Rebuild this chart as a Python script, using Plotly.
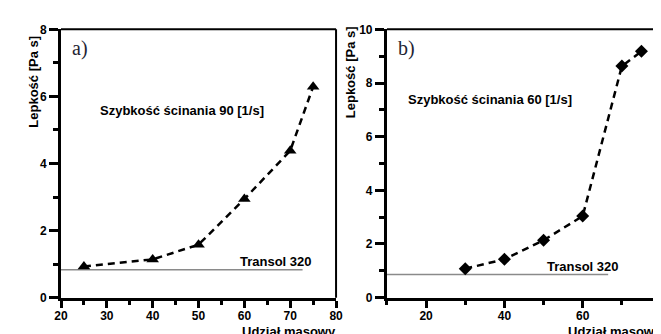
import plotly.graph_objects as go

# ---- data ----
a_x = [25, 40, 50, 60, 70, 75]
a_y = [0.93, 1.14, 1.58, 2.94, 4.38, 6.29]
b_x = [30, 40, 50, 60, 70, 75]
b_y = [1.08, 1.43, 2.14, 3.04, 8.63, 9.18]
transol_a_x = [20, 72.7]
transol_a_y = [0.83, 0.83]
transol_b_x = [10, 66.5]
transol_b_y = [0.86, 0.86]
x_title = "Udział masowy"
y_title = "Lepkość [Pa s]"
label_a = "Szybkość ścinania 90 [1/s]"
label_b = "Szybkość ścinania 60 [1/s]"
transol_label = "Transol 320"

W, H = 661, 334
def px(x): return x / W
def py(y): return 1 - y / H

fig = go.Figure()
line_style = dict(color="black", width=2.5, dash="7px,5px")
fig.add_trace(go.Scatter(x=transol_a_x, y=transol_a_y, mode="lines",
                         line=dict(color="#8a8a8a", width=1.5), xaxis="x", yaxis="y"))
fig.add_trace(go.Scatter(x=a_x, y=a_y, mode="lines+markers", line=line_style,
                         marker=dict(symbol="triangle-up", size=11, color="black"),
                         xaxis="x", yaxis="y"))
fig.add_trace(go.Scatter(x=transol_b_x, y=transol_b_y, mode="lines",
                         line=dict(color="#8a8a8a", width=1.5), xaxis="x2", yaxis="y2"))
fig.add_trace(go.Scatter(x=b_x, y=b_y, mode="lines+markers", line=line_style,
                         marker=dict(symbol="diamond", size=10, color="black"),
                         xaxis="x2", yaxis="y2"))

tickfont = dict(family="Liberation Sans, Arial", size=12, color="black", weight="bold")
common = dict(showline=True, linecolor="black", linewidth=3, ticks="outside",
              tickwidth=2.5, tickcolor="black", tickfont=tickfont, showgrid=False,
              zeroline=False, mirror=False)
minor_x = dict(ticklen=4, tickwidth=2.5, ticks="outside", tickcolor="black")

fig.update_layout(
    width=W, height=H, margin=dict(l=0, r=0, t=0, b=0),
    paper_bgcolor="white", plot_bgcolor="white", showlegend=False,
    xaxis=dict(domain=[px(47), px(328)], range=[20, 80], dtick=10, tick0=20, ticklen=7,
               ticklabelstandoff=-2,
               minor=dict(dtick=5, tick0=20, **minor_x),
               anchor="y", **common),
    yaxis=dict(domain=[py(295), py(15)], range=[0, 8], dtick=2, tick0=0, ticklen=9,
               minor=dict(dtick=1, tick0=0, ticklen=5, tickwidth=2.5, ticks="outside", tickcolor="black"),
               anchor="x", **common),
    xaxis2=dict(domain=[px(380), px(660)], range=[10, 80], dtick=20, tick0=0, ticklen=7,
                ticklabelstandoff=-2,
                minor=dict(dtick=10, tick0=0, **minor_x),
                anchor="y2", **common),
    yaxis2=dict(domain=[py(295), py(15)], range=[0, 10], dtick=2, tick0=0, ticklen=9,
                minor=dict(dtick=1, tick0=0, ticklen=5, tickwidth=2.5, ticks="outside", tickcolor="black"),
                anchor="x2", **common),
)

# top/right frame lines
for x0, x1 in [(47, 328), (380, 660)]:
    fig.add_shape(type="line", xref="paper", yref="paper", x0=px(x0), x1=px(x1),
                  y0=py(15), y1=py(15), line=dict(color="black", width=2))
    fig.add_shape(type="line", xref="paper", yref="paper", x0=px(x1), x1=px(x1),
                  y0=py(15), y1=py(295), line=dict(color="black", width=2))

bold13 = dict(family="Liberation Sans, Arial", size=13, color="black", weight="bold")
serif = dict(family="Liberation Serif, Times New Roman", size=20, color="#1f2433")

def ann(text, x, y, font, angle=0):
    fig.add_annotation(text=text, x=px(x), y=py(y), xref="paper", yref="paper",
                       showarrow=False, font=font, textangle=angle,
                       xanchor="center", yanchor="middle")

ann("a)", 66, 35, serif)
ann("b)", 400, 35, serif)
ann(label_a, 171, 100, bold13)
ann(label_b, 485, 88, bold13)
ann(transol_label, 267, 257, bold13)
ann(transol_label, 580, 262, bold13)
ann(y_title, 18, 70, bold13, -90)
ann(y_title, 343, 60, bold13, -90)
ann(x_title, 280, 330, bold13)
ann(x_title, 613, 330, bold13)

fig.write_html("out.html")
